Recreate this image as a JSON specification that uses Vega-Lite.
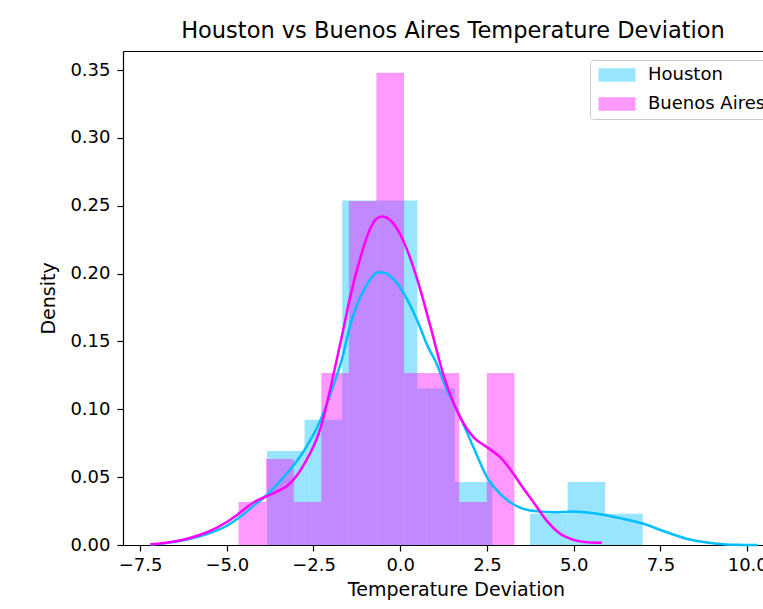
{
  "$schema": "https://vega.github.io/schema/vega-lite/v6.json",
  "width": 640,
  "height": 494,
  "autosize": {"type": "none"},
  "padding": {"left": 123, "top": 51, "right": 0, "bottom": 64},
  "background": "white",
  "title": {
    "text": "Houston vs Buenos Aires Temperature Deviation",
    "font": "DejaVu Sans",
    "fontSize": 22.5,
    "fontWeight": "normal",
    "color": "black",
    "anchor": "middle",
    "dx": 10,
    "offset": 9
  },
  "datasets": {
    "hist": [
      {"city": "Houston", "x0": -3.84, "x1": -2.757, "density": 0.0693},
      {"city": "Houston", "x0": -2.757, "x1": -1.674, "density": 0.0923},
      {"city": "Houston", "x0": -1.674, "x1": -0.591, "density": 0.2539},
      {"city": "Houston", "x0": -0.591, "x1": 0.492, "density": 0.2539},
      {"city": "Houston", "x0": 0.492, "x1": 1.575, "density": 0.1154},
      {"city": "Houston", "x0": 1.575, "x1": 2.658, "density": 0.0465},
      {"city": "Houston", "x0": 2.658, "x1": 3.741, "density": 0},
      {"city": "Houston", "x0": 3.741, "x1": 4.824, "density": 0.0231},
      {"city": "Houston", "x0": 4.824, "x1": 5.907, "density": 0.0465},
      {"city": "Houston", "x0": 5.907, "x1": 6.99, "density": 0.0231},
      {"city": "Buenos Aires", "x0": -4.66, "x1": -3.865, "density": 0.0317},
      {"city": "Buenos Aires", "x0": -3.865, "x1": -3.07, "density": 0.0634},
      {"city": "Buenos Aires", "x0": -3.07, "x1": -2.275, "density": 0.0317},
      {"city": "Buenos Aires", "x0": -2.275, "x1": -1.48, "density": 0.1268},
      {"city": "Buenos Aires", "x0": -1.48, "x1": -0.685, "density": 0.2535},
      {"city": "Buenos Aires", "x0": -0.685, "x1": 0.11, "density": 0.348},
      {"city": "Buenos Aires", "x0": 0.11, "x1": 0.905, "density": 0.1268},
      {"city": "Buenos Aires", "x0": 0.905, "x1": 1.7, "density": 0.1268},
      {"city": "Buenos Aires", "x0": 1.7, "x1": 2.495, "density": 0.0317},
      {"city": "Buenos Aires", "x0": 2.495, "x1": 3.29, "density": 0.1268}
    ],
    "kdeH": [
      {"x": -7.2, "y": 0.0003}, {"x": -6.8, "y": 0.0012}, {"x": -6.14, "y": 0.004},
      {"x": -5.57, "y": 0.008}, {"x": -5.01, "y": 0.014}, {"x": -4.6, "y": 0.021},
      {"x": -4.22, "y": 0.029}, {"x": -3.84, "y": 0.037}, {"x": -3.26, "y": 0.053},
      {"x": -2.76, "y": 0.07}, {"x": -2.3, "y": 0.092}, {"x": -1.92, "y": 0.118},
      {"x": -1.68, "y": 0.137}, {"x": -1.44, "y": 0.162}, {"x": -1.2, "y": 0.18},
      {"x": -1.0, "y": 0.19}, {"x": -0.8, "y": 0.198}, {"x": -0.6, "y": 0.201},
      {"x": -0.4, "y": 0.2}, {"x": -0.2, "y": 0.196}, {"x": 0.2, "y": 0.181},
      {"x": 0.48, "y": 0.166}, {"x": 0.8, "y": 0.146}, {"x": 1.06, "y": 0.133},
      {"x": 1.25, "y": 0.12}, {"x": 1.71, "y": 0.0954}, {"x": 2.11, "y": 0.072},
      {"x": 2.5, "y": 0.05}, {"x": 2.88, "y": 0.0377}, {"x": 3.26, "y": 0.03},
      {"x": 3.74, "y": 0.0255}, {"x": 4.42, "y": 0.0242}, {"x": 4.99, "y": 0.0246},
      {"x": 5.57, "y": 0.0234}, {"x": 6.34, "y": 0.0198}, {"x": 6.99, "y": 0.0158},
      {"x": 7.68, "y": 0.0094}, {"x": 8.35, "y": 0.004}, {"x": 9.12, "y": 0.001},
      {"x": 9.7, "y": 0.0002}, {"x": 10.3, "y": 0.0}
    ],
    "kdeB": [
      {"x": -7.2, "y": 0.0005}, {"x": -6.8, "y": 0.0015}, {"x": -6.14, "y": 0.0046},
      {"x": -5.57, "y": 0.0094}, {"x": -5.01, "y": 0.0168}, {"x": -4.66, "y": 0.023},
      {"x": -4.22, "y": 0.0315}, {"x": -3.84, "y": 0.036}, {"x": -3.5, "y": 0.04},
      {"x": -3.26, "y": 0.0435}, {"x": -2.76, "y": 0.06}, {"x": -2.3, "y": 0.086},
      {"x": -1.92, "y": 0.126}, {"x": -1.68, "y": 0.154}, {"x": -1.44, "y": 0.183},
      {"x": -1.2, "y": 0.207}, {"x": -0.9, "y": 0.231}, {"x": -0.7, "y": 0.24},
      {"x": -0.52, "y": 0.242}, {"x": -0.2, "y": 0.237}, {"x": 0.0, "y": 0.229},
      {"x": 0.25, "y": 0.214}, {"x": 0.5, "y": 0.195}, {"x": 0.86, "y": 0.162},
      {"x": 1.25, "y": 0.125}, {"x": 1.71, "y": 0.095}, {"x": 2.11, "y": 0.0795},
      {"x": 2.5, "y": 0.072}, {"x": 2.88, "y": 0.0647}, {"x": 3.26, "y": 0.0525},
      {"x": 3.46, "y": 0.045}, {"x": 3.74, "y": 0.035}, {"x": 3.84, "y": 0.0315},
      {"x": 4.22, "y": 0.018}, {"x": 4.61, "y": 0.0083}, {"x": 4.99, "y": 0.0038},
      {"x": 5.38, "y": 0.002}, {"x": 5.81, "y": 0.0016}
    ]
  },
  "config": {
    "view": {"stroke": null},
    "font": "DejaVu Sans",
    "axis": {
      "grid": false,
      "domainColor": "black",
      "domainWidth": 1.2,
      "tickColor": "black",
      "tickWidth": 1.2,
      "tickSize": 6,
      "labelFont": "DejaVu Sans",
      "labelFontSize": 18,
      "labelColor": "black",
      "titleFont": "DejaVu Sans",
      "titleFontSize": 19,
      "titleFontWeight": "normal",
      "titleColor": "black"
    }
  },
  "resolve": {"axis": {"x": "independent"}},
  "layer": [
    {
      "data": {"name": "hist"},
      "transform": [{"filter": "datum.city === 'Houston'"}],
      "mark": {"type": "rect", "opacity": 0.4},
      "encoding": {
        "x": {
          "field": "x0", "type": "quantitative",
          "scale": {"domain": [-7.99, 10.455], "nice": false, "zero": false},
          "axis": {
            "title": "Temperature Deviation",
            "values": [-7.5, -5, -2.5, 0, 2.5, 5, 7.5, 10],
            "format": ".1f",
            "labelPadding": 5,
            "titlePadding": 6,
            "titleX": 333,
            "labelFlush": false,
            "labelOverlap": false
          }
        },
        "x2": {"field": "x1"},
        "y": {
          "field": "density", "type": "quantitative",
          "scale": {"domain": [0, 0.364], "nice": false},
          "axis": {
            "title": "Density",
            "values": [0, 0.05, 0.1, 0.15, 0.2, 0.25, 0.3, 0.35],
            "format": ".2f",
            "labelPadding": 7,
            "titlePadding": 11
          }
        },
        "y2": {"datum": 0},
        "color": {
          "field": "city", "type": "nominal",
          "scale": {"domain": ["Houston", "Buenos Aires"], "range": ["#00BFFF", "#FF00FF"]},
          "legend": {
            "orient": "none",
            "legendX": 467,
            "legendY": 9,
            "title": null,
            "symbolType": "M-2.64,-0.95L2.64,-0.95L2.64,0.95L-2.64,0.95Z",
            "symbolSize": 196,
            "symbolOpacity": 0.4,
            "symbolStrokeWidth": 0,
            "symbolOffset": 12,
            "labelFont": "DejaVu Sans",
            "labelFontSize": 18,
            "labelColor": "black",
            "labelOffset": 22,
            "padding": 6,
            "rowPadding": 11,
            "strokeColor": "#cccccc",
            "fillColor": "white",
            "cornerRadius": 3
          }
        }
      }
    },
    {
      "data": {"name": "hist"},
      "transform": [{"filter": "datum.city === 'Buenos Aires'"}],
      "mark": {"type": "rect", "opacity": 0.4},
      "encoding": {
        "x": {"field": "x0", "type": "quantitative", "axis": null},
        "x2": {"field": "x1"},
        "y": {"field": "density", "type": "quantitative"},
        "y2": {"datum": 0},
        "color": {"field": "city", "type": "nominal"}
      }
    },
    {
      "data": {"name": "kdeH"},
      "mark": {"type": "line", "color": "#00BFFF", "strokeWidth": 2.5, "interpolate": "monotone"},
      "encoding": {
        "x": {
          "field": "x", "type": "quantitative",
          "axis": {"orient": "top", "labels": false, "ticks": false, "title": null, "domain": true}
        },
        "y": {"field": "y", "type": "quantitative"}
      }
    },
    {
      "data": {"name": "kdeB"},
      "mark": {"type": "line", "color": "#FF00FF", "strokeWidth": 2.5, "interpolate": "monotone"},
      "encoding": {
        "x": {"field": "x", "type": "quantitative", "axis": null},
        "y": {"field": "y", "type": "quantitative"}
      }
    }
  ]
}
